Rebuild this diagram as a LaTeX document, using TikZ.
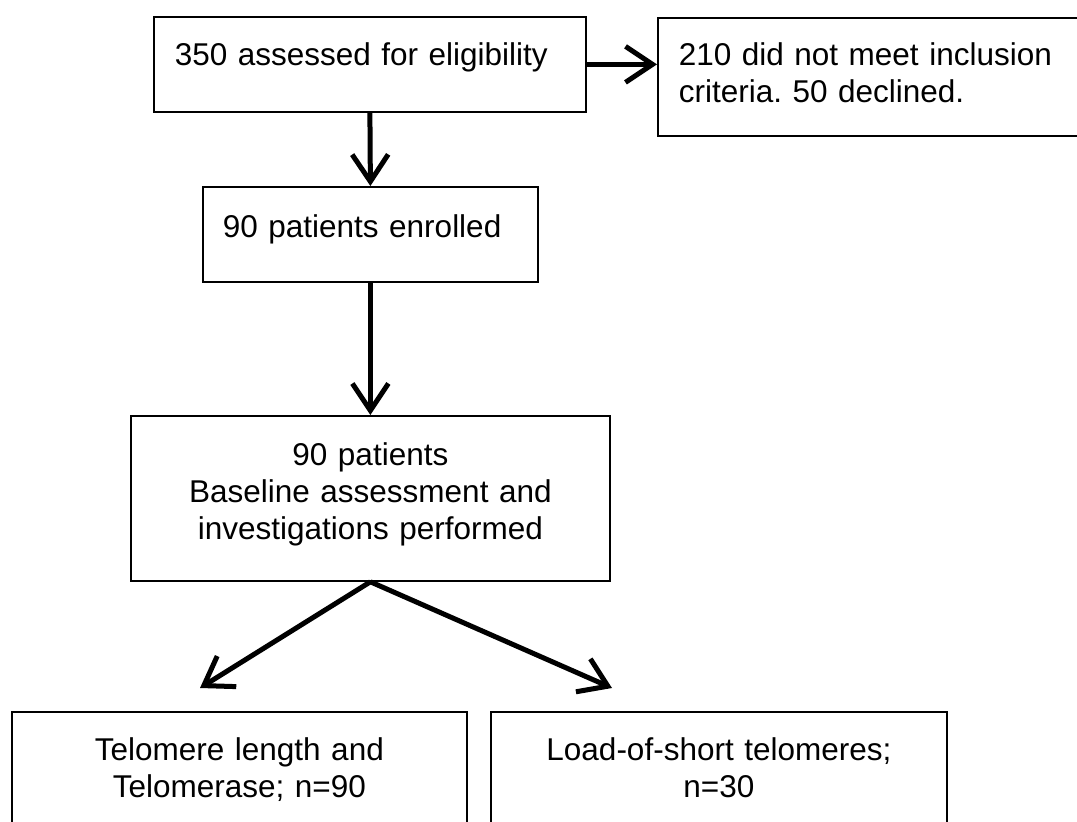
\documentclass[tikz,border=0pt]{standalone}
\usepackage{fontspec}
\setmainfont{Liberation Sans}
\usetikzlibrary{arrows.meta}
\frenchspacing
\begin{document}
\begin{tikzpicture}[x=1pt,y=-1pt,
  box/.style={draw, line width=1.8pt, anchor=north west, inner xsep=10pt, inner ysep=0pt,
              font=\fontsize{31.5}{37}\selectfont},
  flow/.style={line width=5pt, -{Straight Barb[length=27pt,width=36pt]}}]
\useasboundingbox (0,0) rectangle (1077,822);
\clip (0,0) rectangle (1077,822);
\fill[white] (0,0) rectangle (1077,822);
\node[box, inner xsep=21pt, text width=390pt, align=left, text height=49pt, text depth=46pt]
  (b1) at (153,16) {350 assessed for eligibility};
\node[box, inner xsep=21pt, text width=420pt, align=left, text height=48pt, text depth=70pt]
  (b2) at (657,17) {210 did not meet inclusion\\criteria. 50 declined.};
\node[box, inner xsep=20pt, text width=295pt, align=left, text height=51pt, text depth=44pt]
  (b3) at (202,186) {90 patients enrolled};
\node[box, text width=459pt, align=center, text height=50pt, text depth=115pt]
  (b4) at (130,415) {90 patients\\Baseline assessment and\\investigations performed};
\node[box, text width=435pt, align=center, text height=49pt, text depth=100pt]
  (b5) at (11,711) {Telomere length and\\Telomerase; n=90};
\node[box, text width=436pt, align=center, text height=49pt, text depth=100pt]
  (b6) at (490,711) {Load-of-short telomeres;\\n=30};
\coordinate (t1) at (200,688);
\coordinate (t2) at (612,688);
\draw[flow] (b1.east) -- (b1.east -| b2.west);
\draw[flow] (b1.south) -- (b3.north);
\draw[flow] (b3.south) -- (b4.north);
\draw[flow] (b4.south) -- (t1);
\draw[flow] (b4.south) -- (t2);
\end{tikzpicture}
\end{document}
